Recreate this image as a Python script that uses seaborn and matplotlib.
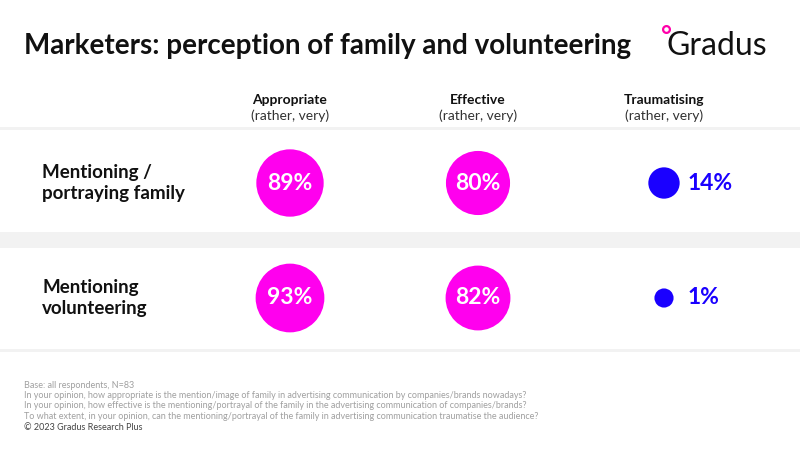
import matplotlib.pyplot as plt
import seaborn as sns
import pandas as pd

rows = ["Mentioning /\nportraying family", "Mentioning\nvolunteering"]
columns = ["Appropriate", "Effective", "Traumatising"]
appropriate = [89, 93]
effective = [80, 82]
traumatising = [14, 1]

footnotes = [
    "Base: all respondents, N=83",
    "In your opinion, how appropriate is the mention/image of family in advertising communication by companies/brands nowadays?",
    "In your opinion, how effective is the mentioning/portrayal of the family in the advertising communication of companies/brands?",
    "To what extent, in your opinion, can the mentioning/portrayal of the family in advertising communication traumatise the audience?",
]

col_x = {"Appropriate": 290, "Effective": 478, "Traumatising": 664}
row_y = [183, 298]

df = pd.DataFrame({
    "col": [c for c in columns for _ in rows],
    "row": list(range(len(rows))) * len(columns),
    "value": appropriate + effective + traumatising,
})
df["x"] = df["col"].map(col_x)
df["y"] = df["row"].map(lambda i: row_y[i])
df["kind"] = df["col"].map(lambda c: "bad" if c == "Traumatising" else "good")

sns.set_style("white")
plt.rcParams["font.family"] = ["Lato", "DejaVu Sans"]

fig = plt.figure(figsize=(8, 4.5), dpi=100)
ax = fig.add_axes([0, 0, 1, 1])
ax.set_xlim(0, 800)
ax.set_ylim(450, 0)
ax.axis("off")

# row cards separated by light grey stripes
for y0, y1 in [(127, 130), (232, 248), (349, 352)]:
    ax.axhspan(y0, y1, color="#f2f2f2", lw=0, zorder=0)

sns.scatterplot(data=df, x="x", y="y", size="value", sizes=(190, 2450),
                size_norm=(1, 93), hue="kind",
                palette={"good": "#ff00ee", "bad": "#1a00ff"},
                legend=False, linewidth=0, ax=ax, zorder=3)

for _, r in df.iterrows():
    if r["col"] == "Traumatising":
        ax.text(r["x"] + 24, r["y"], f"{r['value']}%", color="#1a00ff",
                fontsize=16.5, fontweight="bold", ha="left", va="center", zorder=4)
    else:
        ax.text(r["x"], r["y"], f"{r['value']}%", color="white",
                fontsize=16.5, fontweight="bold", ha="center", va="center", zorder=4)

for c in columns:
    ax.text(col_x[c], 100, c, fontsize=10, fontweight="bold", ha="center", va="center", color="#111111")
    ax.text(col_x[c], 116, "(rather, very)", fontsize=10, ha="center", va="center", color="#333333")

for i, label in enumerate(rows):
    ax.text(42, row_y[i], label, fontsize=13.5, fontweight="bold", ha="left", va="center",
            color="#111111", linespacing=1.35)

ax.text(24, 46, "Marketers: perception of family and volunteering", fontsize=20,
        fontweight="bold", ha="left", va="center", color="#111111")
ax.text(666, 46, "Gradus", fontsize=23, ha="left", va="center", color="#111111")
ax.scatter([666], [29], s=24, facecolor="white", edgecolor="#ff00aa", linewidth=1.6, zorder=5)

for i, line in enumerate(footnotes):
    ax.text(24, 385 + i * 10.5, line, fontsize=6.5, ha="left", va="center", color="#a0a0a0")
ax.text(24, 427, "© 2023 Gradus Research Plus", fontsize=6.5, ha="left", va="center", color="#444444")

fig.savefig("out.png", dpi=100)
plt.close(fig)
